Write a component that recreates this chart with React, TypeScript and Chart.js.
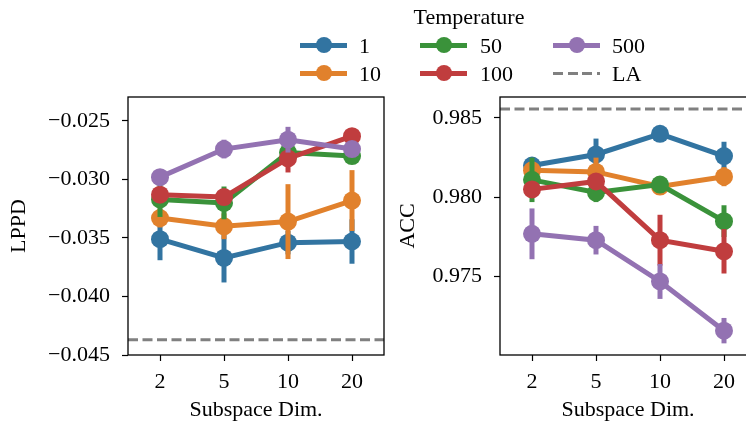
import React, { useEffect, useRef } from 'react';
import { Chart, registerables } from 'chart.js';

Chart.register(...registerables);

const categories = ['2', '5', '10', '20'];
const temperatures = ['1', '10', '50', '100', '500'];
const colors = ['#3274a1', '#e1812c', '#3a923a', '#c03d3e', '#9372b2'];

// LPPD (left panel)
const lppd1 = [-0.0351, -0.0367, -0.0354, -0.0353];
const lppd10 = [-0.0333, -0.034, -0.0336, -0.0318];
const lppd50 = [-0.0317, -0.032, -0.0277, -0.028];
const lppd100 = [-0.0313, -0.0315, -0.0282, -0.0263];
const lppd500 = [-0.0298, -0.0274, -0.0266, -0.0274];
const lppdErr1 = [0.0018, 0.0021, 0.001, 0.0019];
const lppdErr10 = [0.0008, 0.0011, 0.0032, 0.0026];
const lppdErr50 = [0.0015, 0.0014, 0.0005, 0.0006];
const lppdErr100 = [0.0006, 0.0005, 0.0012, 0.0003];
const lppdErr500 = [0.0005, 0.0008, 0.0011, 0.0003];
const lppdLA = -0.0437;
const lppdTicks = [-0.045, -0.04, -0.035, -0.03, -0.025];

// ACC (right panel)
const acc1 = [0.982, 0.9827, 0.984, 0.9826];
const acc10 = [0.9817, 0.9816, 0.98068, 0.9813];
const acc50 = [0.9811, 0.9803, 0.9808, 0.9785];
const acc100 = [0.9805, 0.981, 0.9773, 0.9766];
const acc500 = [0.9777, 0.9773, 0.9747, 0.9716];
const accErr1 = [0.0005, 0.001, 0.0004, 0.0009];
const accErr10 = [0.0004, 0.0009, 0.0005, 0.0006];
const accErr50 = [0.0014, 0.0006, 0.0004, 0.001];
const accErr100 = [0.0005, 0.0004, 0.0016, 0.0014];
const accErr500 = [0.0016, 0.0009, 0.0011, 0.0008];
const accLA = 0.98557;
const accTicks = [0.975, 0.98, 0.985];

const FONT = "'Liberation Serif', 'Times New Roman', serif";
const FONT_SIZE = 22;

function fmt(v: number) {
  return (v < 0 ? '\u2212' : '') + Math.abs(v).toFixed(3);
}

type PanelProps = {
  left: number;
  width: number;
  yTitle: string;
  series: number[][];
  errors: number[][];
  yMin: number;
  yMax: number;
  yTicks: number[];
  la: number;
  axisWidth: number;
  padRight: number;
  titlePad: number;
};

function Panel(p: PanelProps) {
  const ref = useRef<HTMLCanvasElement | null>(null);
  useEffect(() => {
    if (!ref.current) return;
    const plugin = {
      id: 'extras',
      beforeDatasetsDraw(chart: any) {
        const { ctx, chartArea: a } = chart;
        const y = chart.scales.y.getPixelForValue(p.la);
        ctx.save();
        ctx.beginPath();
        ctx.rect(a.left, a.top, a.right - a.left, a.bottom - a.top);
        ctx.clip();
        ctx.strokeStyle = '#808080';
        ctx.lineWidth = 3;
        ctx.setLineDash([10, 4.5]);
        ctx.beginPath();
        ctx.moveTo(a.left, y);
        ctx.lineTo(a.right, y);
        ctx.stroke();
        ctx.restore();
      },
      beforeDatasetDraw(chart: any, args: any) {
        const i = args.index;
        const errs = p.errors[i];
        if (!errs) return;
        const { ctx, chartArea: a } = chart;
        const ys = chart.scales.y;
        const data = chart.data.datasets[i].data as number[];
        ctx.save();
        ctx.beginPath();
        ctx.rect(a.left, a.top, a.right - a.left, a.bottom - a.top);
        ctx.clip();
        ctx.strokeStyle = colors[i];
        ctx.lineWidth = 5;
        ctx.lineCap = 'butt';
        args.meta.data.forEach((pt: any, j: number) => {
          ctx.beginPath();
          ctx.moveTo(pt.x, ys.getPixelForValue(data[j] - errs[j]));
          ctx.lineTo(pt.x, ys.getPixelForValue(data[j] + errs[j]));
          ctx.stroke();
        });
        ctx.restore();
      },
      afterDraw(chart: any) {
        const { ctx, chartArea: a } = chart;
        ctx.save();
        ctx.strokeStyle = '#000';
        ctx.lineWidth = 1.3;
        ctx.strokeRect(a.left, a.top, a.right - a.left, a.bottom - a.top);
        ctx.restore();
      },
    };
    const n = p.series.length;
    const chart = new Chart(ref.current, {
      type: 'line',
      data: {
        labels: categories,
        datasets: p.series.map((s, i) => ({
          label: temperatures[i],
          data: s,
          borderColor: colors[i],
          backgroundColor: colors[i],
          borderWidth: 5,
          pointRadius: 9,
          pointBorderWidth: 0,
          pointBackgroundColor: colors[i],
          tension: 0,
          order: n - i,
        })),
      },
      options: {
        animation: false,
        responsive: false,
        devicePixelRatio: 1,
        layout: { padding: { left: 0, right: p.padRight, top: 97, bottom: 0 }, autoPadding: false },
        plugins: { legend: { display: false }, tooltip: { enabled: false } },
        scales: {
          x: {
            type: 'category',
            offset: true,
            grid: { display: true, drawOnChartArea: false, drawTicks: true, tickLength: 6, tickWidth: 1.2, tickColor: '#000' },
            border: { display: false },
            ticks: { color: '#000', padding: 10, maxRotation: 0, autoSkip: false, font: { family: FONT, size: FONT_SIZE, lineHeight: 1 } },
            title: { display: true, text: 'Subspace Dim.', color: '#000', padding: { top: 0, bottom: 0 }, font: { family: FONT, size: FONT_SIZE, lineHeight: 1 } },
            afterFit: (s: any) => { s.height = 66; },
          },
          y: {
            type: 'linear',
            min: p.yMin,
            max: p.yMax,
            grid: { display: true, drawOnChartArea: false, drawTicks: true, tickLength: 6, tickWidth: 1.2, tickColor: '#000' },
            border: { display: false },
            ticks: { color: '#000', padding: 12, callback: (v: any) => fmt(Number(v)), font: { family: FONT, size: FONT_SIZE, lineHeight: 1 } },
            afterBuildTicks: (s: any) => { s.ticks = p.yTicks.map((v) => ({ value: v })); },
            title: { display: true, text: p.yTitle, color: '#000', padding: { top: p.titlePad, bottom: 0 }, font: { family: FONT, size: FONT_SIZE, lineHeight: 1 } },
            afterFit: (s: any) => { s.width = p.axisWidth; },
          },
        },
      } as any,
      plugins: [plugin],
    });
    return () => chart.destroy();
  }, []);
  return (
    <canvas
      ref={ref}
      width={p.width}
      height={421}
      style={{ position: 'absolute', left: p.left, top: 0, width: p.width, height: 421, display: 'block' }}
    />
  );
}

const legendCols = [
  { handleLeft: 300, labelLeft: 359 },
  { handleLeft: 420, labelLeft: 480 },
  { handleLeft: 553, labelLeft: 612 },
];
const legendRows = [45, 73];

function Legend() {
  const items: { label: string; color: string | null }[] = [
    { label: temperatures[0], color: colors[0] },
    { label: temperatures[1], color: colors[1] },
    { label: temperatures[2], color: colors[2] },
    { label: temperatures[3], color: colors[3] },
    { label: temperatures[4], color: colors[4] },
    { label: 'LA', color: null },
  ];
  const textStyle: React.CSSProperties = {
    position: 'absolute',
    fontFamily: FONT,
    fontSize: FONT_SIZE,
    color: '#000',
    lineHeight: '1',
    whiteSpace: 'nowrap',
    transform: 'translateY(-50%)',
  };
  return (
    <div style={{ position: 'absolute', left: 0, top: 0, width: 746, height: 90 }}>
      <div style={{ ...textStyle, left: 369, width: 200, textAlign: 'center', top: 17 }}>Temperature</div>
      {items.map((it, k) => {
        const col = legendCols[Math.floor(k / 2)];
        const y = legendRows[k % 2];
        return (
          <React.Fragment key={k}>
            {it.color ? (
              <>
                <div style={{ position: 'absolute', left: col.handleLeft, top: y - 2.5, width: 47, height: 5, background: it.color }} />
                <div style={{ position: 'absolute', left: col.handleLeft + 15.5, top: y - 8, width: 16, height: 16, borderRadius: '50%', background: it.color }} />
              </>
            ) : (
              <div style={{ position: 'absolute', left: col.handleLeft, top: y - 1.5, width: 47, height: 3, background: 'repeating-linear-gradient(to right, #808080 0 10px, transparent 10px 14.5px)' }} />
            )}
            <div style={{ ...textStyle, left: col.labelLeft, top: y + 1 }}>{it.label}</div>
          </React.Fragment>
        );
      })}
    </div>
  );
}

export default function App() {
  return (
    <div style={{ position: 'fixed', left: 0, top: 0, width: 746, height: 421, overflow: 'hidden', background: '#fff' }}>
      <Panel
        left={0}
        width={390}
        yTitle="LPPD"
        series={[lppd1, lppd10, lppd50, lppd100, lppd500]}
        errors={[lppdErr1, lppdErr10, lppdErr50, lppdErr100, lppdErr500]}
        yMin={-0.045}
        yMax={-0.02295}
        yTicks={lppdTicks}
        la={lppdLA}
        axisWidth={128}
        padRight={6}
        titlePad={8}
      />
      <Panel
        left={390}
        width={380}
        yTitle="ACC"
        series={[acc1, acc10, acc50, acc100, acc500]}
        errors={[accErr1, accErr10, accErr50, accErr100, accErr500]}
        yMin={0.970066}
        yMax={0.98632}
        yTicks={accTicks}
        la={accLA}
        axisWidth={110}
        padRight={14}
        titlePad={7}
      />
      <Legend />
    </div>
  );
}
